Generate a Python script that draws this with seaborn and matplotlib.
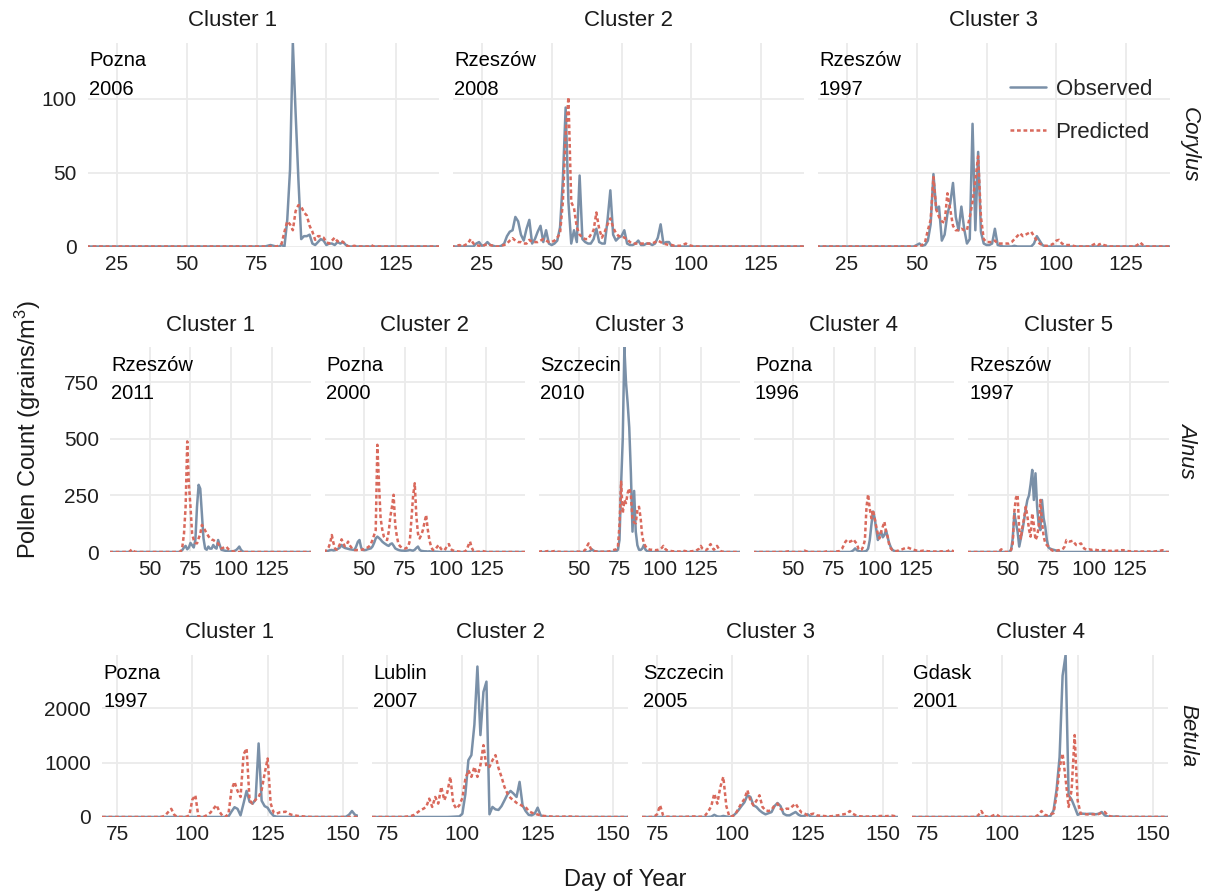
import numpy as np
import pandas as pd
import matplotlib
matplotlib.use("Agg")
import matplotlib.pyplot as plt
import seaborn as sns
from matplotlib.lines import Line2D

# ---------------- data (daily pollen counts) ----------------
# Corylus
cor1_obs_start = 78
cor1_obs = [0, 0.5, 1, 0.5, 0, 0, 1, 0, 18, 52, 138, 90, 45, 5, 7, 7, 8, 2, 1, 3,
            5, 4, 1, 2, 2, 1, 3, 2, 3, 1, 0]
cor1_pred_start = 82
cor1_pred = [0, 0.5, 2, 10, 17, 15, 11, 24, 28, 27, 23, 21, 14, 10, 4.5, 7, 7, 6, 3, 2,
             4, 6, 3.4, 4, 3, 1, 0, 0, 0.5, 0, 0, 0, 0, 0, 1, 0]
cor2_obs_start = 22
cor2_obs = [0, 2, 3, 0.5, 1, 3, 1, 0.5, 0, 0,
            0.5, 2, 7, 10, 11, 20, 17, 8, 4, 12,
            18, 2, 5, 10, 14, 3, 11, 2, 1, 2,
            4, 13, 45, 94, 30, 2, 11, 3, 48, 5,
            3, 2, 2, 5, 12, 3, 2, 2, 18, 38,
            8, 4, 6, 7, 11, 2, 1, 1, 2, 4,
            1, 1, 2, 2, 1, 2, 6, 15, 2, 3,
            3, 0]
cor2_pred_start = 15
cor2_pred = [0, 0.5, 1, 0, 1, 2, 5, 2, 1, 0.5,
             0, 1, 1.5, 1, 0.5, 0, 0, 0.5, 1, 2,
             4, 5.6, 4, 3, 3, 2, 2, 4.5, 3, 3,
             3, 4, 5, 4, 3, 3, 4, 6, 9, 30,
             75, 101, 30, 26, 13, 8, 6, 5, 5, 8,
             11, 23, 12, 6, 10, 15, 19, 13, 9, 7,
             7, 6, 5, 3, 2, 2, 2, 2, 2, 2,
             2, 2, 3, 4, 3, 2, 1.5, 1, 1, 0.5,
             0.5, 0.5, 1, 2, 1, 0.5, 0]
cor3_obs_start = 49
cor3_obs = [0, 1, 2, 0.5, 1, 4, 15, 49, 25, 27,
            4, 8, 22, 29, 43, 20, 11, 27, 12, 2,
            5, 83, 11, 64, 10, 2, 1, 1, 2, 12,
            1, 0.5, 0, 0, 0, 0, 0.5, 0, 0, 0,
            0, 0, 0, 2, 7, 4, 1, 0]
cor3_pred_start = 50
cor3_pred = [0, 0.5, 1, 3, 11, 18, 47, 25, 20, 17,
             16, 36, 25, 14, 11, 11, 12, 11, 11, 20,
             30, 45, 61, 20, 5, 3, 3, 3, 4, 2,
             2, 2, 2, 2, 3, 5, 7, 9, 7, 8,
             9, 10, 7, 4, 2, 1, 0.5, 0.5, 1, 2,
             4, 4.5, 2, 1, 1, 1, 0.5, 0, 0, 0,
             0, 0, 0, 1, 2, 1, 2, 1, 0.5, 0,
             0, 0, 0, 0, 0, 0, 0, 0, 0, 1,
             2.7, 1, 0]

# Alnus
aln1_obs_start = 68
aln1_obs = [0, 3, 9, 20, 27, 12, 20, 40, 30, 20,
            53, 200, 297, 280, 170, 60, 15, 10, 24, 15,
            15, 31, 20, 15, 53, 30, 10, 8, 6, 5,
            3, 2, 3, 3, 5, 8, 15, 24, 10, 3, 0]
aln1_pred_start = 37
aln1_pred = [0, 5, 12, 5, 0, 0, 0, 0, 0, 0,
             0, 0, 0, 0, 0, 0, 0, 0, 0, 0,
             0, 0, 0, 0, 0, 0, 0, 0, 0, 0,
             0, 0, 3, 24, 80, 200, 489, 300, 200, 80,
             53, 40, 38, 60, 80, 120, 110, 95, 83, 70,
             60, 55, 53, 48, 42, 38, 25, 16, 18, 22,
             24, 15, 8, 5, 3, 2, 0]
aln2_obs_start = 25
aln2_obs = [0, 2, 4, 6, 8, 9, 7, 8, 12, 15,
            20, 31, 22, 18, 16, 14, 12, 11, 10, 9,
            25, 45, 53, 20, 9, 8, 9, 12, 14, 16,
            24, 40, 60, 68, 62, 55, 46, 40, 35, 30,
            27, 35, 38, 28, 16, 12, 9, 7, 6, 6,
            5, 6, 7, 9, 7, 6, 10, 18, 24, 10,
            5, 4, 3, 3, 2, 3, 2, 2, 2, 1,
            1, 0]
aln2_pred_start = 25
aln2_pred = [0, 5, 9, 20, 40, 75, 40, 15, 10, 20,
             35, 56, 40, 25, 30, 46, 30, 20, 12, 9,
             8, 9, 9, 10, 11, 12, 15, 20, 25, 35,
             53, 75, 97, 474, 304, 149, 100, 68, 58, 53,
             90, 157, 200, 253, 120, 68, 35, 25, 20, 18,
             15, 18, 25, 50, 150, 250, 304, 157, 80, 60,
             75, 97, 130, 164, 100, 53, 25, 10, 8, 15,
             25, 31, 15, 8, 7, 15, 30, 35, 15, 8,
             6, 4, 3, 2, 1, 1, 1, 3, 10, 30,
             46, 20, 5, 2, 1, 1, 2, 5, 4, 2, 0]
aln3_obs_start = 55
aln3_obs = [0, 0, 5, 12, 6, 3, 2, 1, 1, 1,
            1, 1, 1, 1, 1, 1, 1, 2, 3, 10,
            53, 300, 500, 905, 750, 660, 550, 350, 90, 270,
            90, 30, 10, 9, 15, 31, 10, 4, 2, 2, 0]
aln3_pred_start = 25
aln3_pred = [0, 2, 3, 2, 1, 3, 4, 2, 1, 3,
             4, 2, 1, 1, 0, 0, 0, 0, 0, 0,
             0, 0, 0, 1, 2, 1, 2, 3, 5, 10,
             25, 38, 20, 8, 5, 3, 2, 1, 1, 1,
             1, 1, 1, 2, 3, 5, 8, 10, 12, 20,
             120, 311, 171, 230, 216, 260, 282, 250, 142, 130,
             127, 186, 200, 150, 68, 40, 25, 15, 12, 10,
             10, 9, 8, 9, 10, 12, 18, 27, 15, 8,
             6, 5, 4, 3, 3, 3, 2, 2, 2, 3,
             5, 3, 2, 2, 3, 4, 5, 6, 10, 15,
             27, 15, 10, 8, 12, 25, 35, 20, 10, 15,
             27, 15, 5, 2, 1, 0]
aln4_obs_start = 85
aln4_obs = [0, 3, 8, 16, 8, 5, 3, 2, 2, 3,
            5, 15, 53, 120, 179, 150, 100, 53, 75, 90,
            65, 75, 97, 65, 38, 20, 9, 5, 3, 2,
            1, 0]
aln4_pred_start = 25
aln4_pred = [0, 0, 0, 0, 0, 0, 0, 0, 0, 0,
             0, 0, 0, 0, 0, 0, 0, 0, 0, 0,
             0, 2, 3, 1, 0, 0, 0, 0, 0, 0,
             0, 3, 6, 3, 0, 0, 0, 0, 0, 0,
             0, 0, 0, 0, 0, 2, 3, 1, 0, 0,
             0, 1, 3, 3, 8, 15, 30, 45, 53, 45,
             46, 50, 56, 45, 38, 15, 8, 10, 25, 53,
             200, 255, 190, 149, 186, 150, 112, 80, 60, 90,
             112, 134, 90, 68, 30, 15, 8, 5, 4, 5,
             8, 10, 12, 15, 18, 20, 18, 15, 12, 10,
             8, 6, 5, 4, 5, 6, 5, 4, 3, 3,
             3, 2, 2, 2, 2, 2, 3, 2, 2, 2,
             4, 8, 10, 5, 0]
aln5_obs_start = 50
aln5_obs = [0, 2, 8, 60, 171, 130, 90, 24, 60, 97,
            142, 190, 230, 250, 300, 363, 230, 348, 200, 120,
            97, 230, 150, 112, 53, 20, 15, 12, 10, 8,
            5, 3, 0]
aln5_pred_start = 25
aln5_pred = [0, 0, 0, 0, 0, 0, 0, 0, 0, 0,
             0, 0, 0, 0, 0, 0, 0, 0, 0, 0,
             5, 12, 5, 0, 0, 0, 0, 10, 38, 180,
             240, 253, 100, 60, 112, 150, 200, 160, 100, 68,
             171, 120, 53, 70, 112, 230, 134, 70, 40, 30,
             24, 15, 8, 5, 5, 6, 8, 8, 10, 15,
             25, 53, 50, 46, 48, 50, 40, 31, 30, 35,
             38, 25, 15, 12, 10, 12, 10, 10, 12, 10,
             8, 8, 8, 8, 8, 8, 6, 5, 5, 5,
             5, 5, 6, 6, 7, 8, 8, 6, 5, 4,
             3, 3, 3, 2, 2, 2, 2, 2, 2, 2,
             2, 2, 2, 2, 2, 2, 3, 4, 5, 6,
             8, 5, 0]

# Betula
bet1_obs_start = 110
bet1_obs = [0, 2, 10, 100, 180, 150, 30, 250, 480, 280,
            246, 320, 1353, 300, 200, 170, 80, 20, 5, 3,
            2, 2, 1, 1, 1, 0, 0, 0, 0, 0,
            0, 0, 0, 0, 0, 0, 0, 0, 0, 0,
            0, 5, 40, 110, 40, 20]
bet1_pred_start = 88
bet1_pred = [0, 2, 5, 30, 92, 150, 40, 0, 2, 2,
             5, 30, 320, 400, 10, 5, 10, 40, 80, 150,
             220, 100, 20, 5, 60, 500, 646, 480, 369, 1150,
             1261, 308, 246, 320, 369, 492, 800, 1076, 250, 80,
             62, 86, 90, 98, 60, 40, 30, 20, 15, 10,
             5, 2, 0]
bet2_obs_start = 95
bet2_obs = [0, 2, 5, 8, 10, 60, 420, 1045, 1138, 1700,
            2768, 1507, 2300, 2490, 50, 185, 140, 130, 200, 308,
            420, 480, 430, 369, 646, 215, 110, 40, 30, 60,
            172, 30, 10, 5, 2, 0]
bet2_pred_start = 78
bet2_pred = [0, 1, 2, 5, 10, 20, 40, 80, 123, 150,
             185, 338, 185, 369, 246, 554, 308, 450, 738, 246,
             154, 215, 350, 700, 861, 738, 922, 738, 953, 1322,
             922, 922, 1045, 1138, 900, 738, 550, 430, 350, 308,
             260, 234, 200, 185, 110, 80, 62, 45, 30, 20,
             15, 10, 8, 6, 5, 5, 8, 10, 8, 5,
             3, 2, 0]
bet3_obs_start = 92
bet3_obs = [0, 5, 40, 10, 5, 20, 8, 0, 10, 60,
            123, 200, 270, 400, 369, 215, 185, 123, 80, 49,
            70, 90, 200, 258, 200, 60, 31, 30, 62, 92,
            40, 15, 20, 49, 10, 0]
bet3_pred_start = 70
bet3_pred = [0, 0, 0, 0, 5, 50, 215, 30, 5, 5,
             5, 3, 2, 2, 3, 5, 8, 10, 10, 5,
             5, 30, 100, 200, 430, 246, 550, 738, 200, 10,
             15, 50, 154, 250, 330, 492, 300, 215, 300, 400,
             185, 123, 110, 130, 215, 246, 150, 123, 154, 150,
             200, 246, 154, 80, 62, 30, 50, 62, 30, 25,
             20, 15, 12, 15, 25, 30, 40, 50, 62, 110,
             60, 30, 15, 10, 8, 8, 10, 12, 15, 18,
             20, 15, 20, 25, 15, 0]
bet4_obs_start = 113
bet4_obs = [0, 2, 5, 20, 120, 500, 1100, 2600, 2980, 400,
            320, 185, 40, 62, 60, 55, 60, 60, 50, 60,
            92, 30, 10, 5, 8, 10, 3, 0]
bet4_pred_start = 90
bet4_pred = [0, 2, 30, 110, 20, 5, 5, 30, 49, 10,
             2, 0, 0, 0, 0, 0, 0, 0, 0, 0,
             2, 10, 40, 110, 40, 30, 50, 70, 400, 900,
             1168, 700, 185, 500, 1507, 300, 62, 55, 50, 45,
             50, 45, 55, 80, 92, 30, 10, 5, 5, 3,
             2, 2, 2, 2, 2, 2, 2, 2, 2, 2,
             2, 2, 2, 2, 2, 0]

genera = ["Corylus", "Alnus", "Betula"]
cities = [["Pozna", "Rzeszów", "Rzeszów"],
          ["Rzeszów", "Pozna", "Szczecin", "Pozna", "Rzeszów"],
          ["Pozna", "Lublin", "Szczecin", "Gdask"]]
years = [["2006", "2008", "1997"],
         ["2011", "2000", "2010", "1996", "1997"],
         ["1997", "2007", "2005", "2001"]]
row_days = [(14, 141), (25, 149), (70, 155)]
row_xlim = [(14.5, 140.5), (25.5, 148.8), (70, 155)]
row_ylim = [(0, 138), (0, 905), (0, 2980)]
row_xticks = [[25, 50, 75, 100, 125], [50, 75, 100, 125], [75, 100, 125, 150]]
row_yticks = [[0, 50, 100], [0, 250, 500, 750], [0, 1000, 2000]]

series = [
    [(cor1_obs_start, cor1_obs, cor1_pred_start, cor1_pred),
     (cor2_obs_start, cor2_obs, cor2_pred_start, cor2_pred),
     (cor3_obs_start, cor3_obs, cor3_pred_start, cor3_pred)],
    [(aln1_obs_start, aln1_obs, aln1_pred_start, aln1_pred),
     (aln2_obs_start, aln2_obs, aln2_pred_start, aln2_pred),
     (aln3_obs_start, aln3_obs, aln3_pred_start, aln3_pred),
     (aln4_obs_start, aln4_obs, aln4_pred_start, aln4_pred),
     (aln5_obs_start, aln5_obs, aln5_pred_start, aln5_pred)],
    [(bet1_obs_start, bet1_obs, bet1_pred_start, bet1_pred),
     (bet2_obs_start, bet2_obs, bet2_pred_start, bet2_pred),
     (bet3_obs_start, bet3_obs, bet3_pred_start, bet3_pred),
     (bet4_obs_start, bet4_obs, bet4_pred_start, bet4_pred)],
]

# ---------------- style ----------------
sns.set_theme(style="white")
plt.rcParams['font.family'] = ['Liberation Sans', 'DejaVu Sans']
plt.rcParams['mathtext.fontset'] = 'custom'
plt.rcParams['mathtext.rm'] = 'Liberation Sans'
plt.rcParams['mathtext.it'] = 'Liberation Sans:italic'

OBS_C = "#7a90a8"
PRED_C = "#d9695c"
GRID_C = "#ebebeb"
TXT_C = "#1a1a1a"
TICK_C = "#1f1f1f"

W, H = 1207, 894
fig = plt.figure(figsize=(W / 100, H / 100), dpi=100)
fig.patch.set_facecolor("white")

# panel layout in pixels (left, width, gap, top, bottom)
layout = [(87.5, 352, 13, 42.5, 246.5),
          (110, 200.5, 14, 347.3, 552),
          (102, 256, 14, 655, 817)]

def full_series(days, start, vals):
    out = np.zeros(len(days))
    for i, v in enumerate(vals):
        d = start + i
        if days[0] <= d <= days[-1]:
            out[d - days[0]] = v
    return out

legend_ax = None
for r, row in enumerate(series):
    left, width, gap, top, bottom = layout[r]
    days = np.arange(row_days[r][0], row_days[r][1] + 1)
    for c, (os_, ov, ps_, pv) in enumerate(row):
        x0 = left + c * (width + gap)
        ax = fig.add_axes([x0 / W, 1 - bottom / H, width / W, (bottom - top) / H])
        df = pd.DataFrame({
            "day": np.concatenate([days, days]),
            "count": np.concatenate([full_series(days, os_, ov),
                                     full_series(days, ps_, pv)]),
            "series": ["Observed"] * len(days) + ["Predicted"] * len(days),
        })
        sns.lineplot(data=df, x="day", y="count", hue="series", style="series",
                     hue_order=["Observed", "Predicted"],
                     style_order=["Observed", "Predicted"],
                     palette={"Observed": OBS_C, "Predicted": PRED_C},
                     dashes={"Observed": "", "Predicted": (1.5, 1.1)},
                     linewidth=1.8, ax=ax, legend=False, errorbar=None)
        ax.set_xlim(*row_xlim[r])
        ax.set_ylim(*row_ylim[r])
        ax.set_xticks(row_xticks[r])
        ax.set_yticks(row_yticks[r])
        ax.grid(True, color=GRID_C, linewidth=1.35)
        ax.set_axisbelow(True)
        for s in ax.spines.values():
            s.set_visible(False)
        ax.set_facecolor("white")
        ax.tick_params(axis="both", length=0, labelsize=15, colors=TICK_C)
        ax.tick_params(axis="x", pad=6)
        ax.tick_params(axis="y", pad=8)
        if c != 0:
            ax.set_yticklabels([])
        ax.set_xlabel("")
        ax.set_ylabel("")
        # strip title (first Corylus title sits further left in the original)
        tdx = -(264 - 233) * 0.72 if (r == 0 and c == 0) else 0
        ax.annotate(f"Cluster {c + 1}", xy=(0.5, 1), xycoords="axes fraction",
                    xytext=(tdx, 16), textcoords="offset points",
                    ha="center", va="center", fontsize=16, color=TXT_C)
        # city / year annotation
        ax.annotate(cities[r][c], xy=(0, 1), xycoords="axes fraction",
                    xytext=(1, -13.3), textcoords="offset points",
                    ha="left", va="center", fontsize=14.5, color="black")
        ax.annotate(years[r][c], xy=(0, 1), xycoords="axes fraction",
                    xytext=(1, -33.5), textcoords="offset points",
                    ha="left", va="center", fontsize=14.5, color="black")
        if c == len(row) - 1:
            ax.annotate(genera[r], xy=(1, 0.5), xycoords="axes fraction",
                        xytext=(14, 0), textcoords="offset points",
                        ha="center", va="center", rotation=-90,
                        fontsize=16, style="italic", color=TXT_C)
        if r == 0 and c == 2:
            legend_ax = ax

handles = [Line2D([], [], color=OBS_C, lw=1.8),
           Line2D([], [], color=PRED_C, lw=1.8, dashes=(1.5, 1.1))]
legend_ax.legend(handles, ["Observed", "Predicted"], loc="center left",
                 bbox_to_anchor=(1010 / W, 1 - 111 / H),
                 bbox_transform=fig.transFigure, frameon=False, fontsize=16,
                 handlelength=1.6, handletextpad=0.45, labelspacing=1.0,
                 borderpad=0, borderaxespad=0)

fig.text(28 / W, 1 - 430 / H, "Pollen Count (grains/m$^3$)", rotation=90,
         ha="center", va="center", fontsize=17, color=TXT_C)
fig.text(625 / W, 1 - 880 / H, "Day of Year", ha="center", va="center",
         fontsize=17, color=TXT_C)

fig.savefig("out.png", dpi=100, facecolor="white")
